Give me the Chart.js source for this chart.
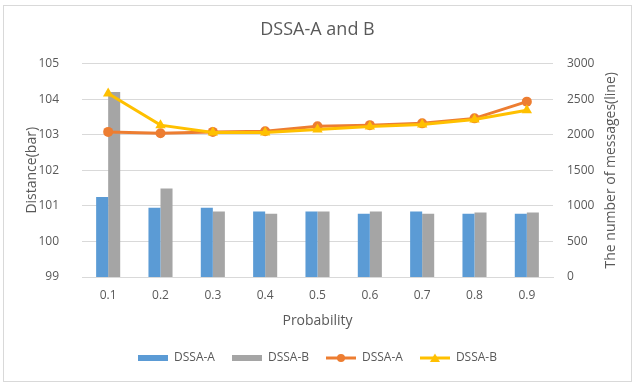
<!DOCTYPE html>
<html>
<head>
<meta charset="utf-8">
<script src="https://cdn.jsdelivr.net/npm/chart.js@4/dist/chart.umd.min.js"></script>
<style>
  html, body { margin: 0; padding: 0; background: #fff; }
  #wrap { width: 635px; height: 383px; }
</style>
</head>
<body>
<div id="wrap"><canvas id="c" width="635" height="383"></canvas></div>
<script>
// Probability levels on the x axis
const probabilities = ['0.1', '0.2', '0.3', '0.4', '0.5', '0.6', '0.7', '0.8', '0.9'];
// Distance (bar), left axis
const distanceA = [101.25, 100.95, 100.95, 100.84, 100.84, 100.78, 100.84, 100.78, 100.78];
const distanceB = [104.2, 101.49, 100.84, 100.78, 100.84, 100.84, 100.78, 100.81, 100.81];
// Number of messages (line), right axis
const messagesA = [2040, 2020, 2040, 2050, 2120, 2135, 2160, 2230, 2465];
const messagesB = [2580, 2135, 2030, 2030, 2075, 2115, 2145, 2215, 2345];

const seriesNames = ['DSSA-A', 'DSSA-B', 'DSSA-A', 'DSSA-B'];
const leftTicks = { min: 99, max: 105, step: 1 };
const rightTicks = { min: 0, max: 3000, step: 500 };

const BLUE = '#5B9BD5', GRAY = '#A5A5A5', ORANGE = '#ED7D31', GOLD = '#FFC000';
const TEXT = '#595959', GRID = '#D9D9D9';
const FONT = "'Open Sans', sans-serif";

Chart.defaults.font.family = FONT;
Chart.defaults.color = TEXT;

// Small legend swatches: a filled bar, or a line with its marker
function swatch(kind, color) {
  const cv = document.createElement('canvas');
  cv.width = 30; cv.height = 12;
  const g = cv.getContext('2d');
  g.fillStyle = color; g.strokeStyle = color;
  if (kind === 'bar') {
    g.fillRect(0, 3, 30, 6);
  } else {
    g.lineWidth = 3;
    g.beginPath(); g.moveTo(0, 6); g.lineTo(30, 6); g.stroke();
    g.beginPath();
    if (kind === 'circle') {
      g.arc(15, 6, 4, 0, Math.PI * 2);
    } else {
      g.moveTo(15, 1.5); g.lineTo(20, 10); g.lineTo(10, 10); g.closePath();
    }
    g.fill();
  }
  return cv;
}
const legendMarks = [swatch('bar', BLUE), swatch('bar', GRAY), swatch('circle', ORANGE), swatch('triangle', GOLD)];

// White page with a thin frame, and the right-hand axis title read bottom-to-top
const framePlugin = {
  id: 'frame',
  beforeDraw(chart) {
    const ctx = chart.ctx;
    ctx.save();
    ctx.fillStyle = '#fff';
    ctx.fillRect(0, 0, chart.width, chart.height);
    ctx.strokeStyle = GRID;
    ctx.lineWidth = 1;
    ctx.strokeRect(3.5, 5.5, chart.width - 7, chart.height - 7);
    ctx.restore();
  },
  afterDraw(chart) {
    const ctx = chart.ctx;
    const area = chart.chartArea;
    ctx.save();
    ctx.translate(611, (area.top + area.bottom) / 2);
    ctx.rotate(-Math.PI / 2);
    ctx.font = "14px " + FONT;
    ctx.fillStyle = TEXT;
    ctx.textAlign = 'center';
    ctx.textBaseline = 'middle';
    ctx.fillText('The number of messages(line)', 0, 0);
    ctx.restore();
  }
};

new Chart(document.getElementById('c'), {
  data: {
    labels: probabilities,
    datasets: [
      { type: 'bar', label: seriesNames[0], data: distanceA, yAxisID: 'y', backgroundColor: BLUE, order: 3 },
      { type: 'bar', label: seriesNames[1], data: distanceB, yAxisID: 'y', backgroundColor: GRAY, order: 3 },
      { type: 'line', label: seriesNames[2], data: messagesA, yAxisID: 'y1', borderColor: ORANGE, backgroundColor: ORANGE,
        borderWidth: 3, pointStyle: 'circle', pointRadius: 5, pointBorderWidth: 0, tension: 0, order: 2 },
      { type: 'line', label: seriesNames[3], data: messagesB, yAxisID: 'y1', borderColor: GOLD, backgroundColor: GOLD,
        borderWidth: 3, pointStyle: 'triangle', pointRadius: 6, pointBorderWidth: 0, tension: 0, order: 1 }
    ]
  },
  options: {
    responsive: false,
    animation: false,
    devicePixelRatio: 1,
    layout: { padding: { left: 0, right: 0, top: 0, bottom: 9 } },
    datasets: { bar: { barPercentage: 1, categoryPercentage: 0.46 } },
    plugins: {
      tooltip: { enabled: false },
      title: {
        display: true, text: 'DSSA-A and B', color: TEXT,
        font: { size: 18, weight: 'normal' },
        padding: { top: 19, bottom: 23 }
      },
      legend: {
        position: 'bottom',
        labels: {
          usePointStyle: true, pointStyleWidth: 30, padding: 17,
          font: { size: 12 }, color: TEXT,
          generateLabels(chart) {
            return chart.data.datasets.map((ds, i) => ({
              text: ds.label, pointStyle: legendMarks[i], fillStyle: ds.backgroundColor,
              strokeStyle: ds.backgroundColor, lineWidth: 0, hidden: false, datasetIndex: i, fontColor: TEXT
            }));
          }
        }
      }
    },
    scales: {
      x: {
        afterFit(s) { s.height = 58; },
        grid: { display: false, drawTicks: false },
        border: { display: true, color: GRID },
        ticks: { padding: 11, font: { size: 12 }, color: TEXT },
        title: { display: true, text: 'Probability', font: { size: 14 }, color: TEXT, padding: { top: 0, bottom: 6 } }
      },
      y: {
        position: 'left',
        min: leftTicks.min, max: leftTicks.max,
        afterFit(s) { s.width = 82; },
        grid: { color: GRID, drawTicks: false },
        border: { display: false },
        ticks: { stepSize: leftTicks.step, padding: 23, font: { size: 12 }, color: TEXT,
          callback: v => String(v) },
        title: { display: true, text: 'Distance(bar)', font: { size: 14 }, color: TEXT, padding: { top: 24, bottom: 0 } }
      },
      y1: {
        position: 'right',
        min: rightTicks.min, max: rightTicks.max,
        afterFit(s) { s.width = 82; },
        grid: { display: false, drawTicks: false },
        border: { display: false },
        ticks: { stepSize: rightTicks.step, padding: 14, font: { size: 12 }, color: TEXT,
          callback: v => String(v) },
        title: { display: false }
      }
    }
  },
  plugins: [framePlugin]
});
</script>
</body>
</html>
